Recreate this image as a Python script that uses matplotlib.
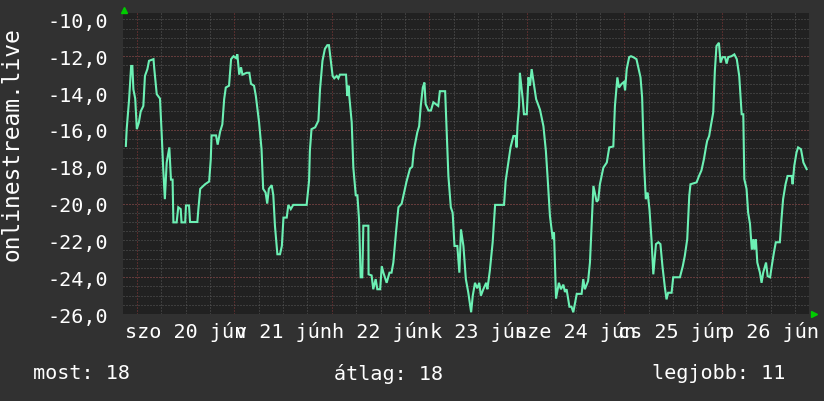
import matplotlib
matplotlib.use("Agg")
import matplotlib.pyplot as plt
from matplotlib.ticker import MultipleLocator, FixedLocator
from matplotlib.transforms import blended_transform_factory

# órák jún 20. 00:00-tól, hőmérséklet
hours = [-2.7, -2.5, -1.9, -1.4, -1.1, -0.85, -0.4, 0.0, 0.5, 0.95, 1.6, 2.0, 2.6, 3.0, 4.1, 4.3,
         4.9, 5.7, 6.1, 6.5, 6.9, 7.35, 8.0, 8.4, 8.8, 9.0, 9.8, 10.2, 10.8, 11.0, 11.9, 12.1,
         12.85, 13.1, 14.9, 15.15, 15.6, 16.8, 17.8, 18.2, 18.4, 19.5, 19.9, 20.5, 21.05, 21.5,
         21.9, 22.7, 23.2, 23.8, 24.4, 24.75, 25.2, 25.65, 26.0, 27.05, 27.7, 28.1, 28.85, 29.3,
         30.1, 30.7, 31.1, 31.7, 32.1, 32.5, 33.2, 33.6, 34.0, 34.6, 35.25, 35.7, 36.1, 36.9,
         37.3, 37.9, 38.5, 41.8, 42.4, 42.6, 43.0, 43.9, 44.7, 45.1, 45.7, 46.3, 46.9, 47.3,
         47.7, 48.2, 48.6, 49.2, 49.6, 50.0, 51.5, 51.8, 52.15, 52.3, 52.9, 53.3, 53.9, 54.3,
         54.7, 55.1, 55.5, 55.76, 57.0, 57.05, 57.8, 58.2, 58.8, 59.2, 59.9, 60.3, 60.7, 61.5,
         62.2, 62.7, 63.15, 63.8, 64.4, 65.2, 65.8, 66.4, 67.25, 67.8, 68.2, 69.05, 69.5, 69.9,
         70.4, 70.8, 71.1, 71.8, 72.4, 73.0, 74.2, 74.6, 75.9, 76.3, 76.7, 77.3, 77.75, 78.2,
         78.9, 79.4, 79.8, 80.4, 81.0, 81.6, 82.3, 82.7, 83.25, 83.8, 84.3, 84.7, 85.3, 86.0,
         86.3, 86.9, 87.6, 88.2, 90.4, 90.8, 91.45, 92.0, 92.7, 93.25, 93.5, 93.7, 94.1, 94.3,
         95.0, 95.3, 96.0, 96.4, 96.8, 97.2, 97.6, 98.3, 99.25, 100.1, 100.7, 101.1, 101.7,
         102.4, 102.7, 103.2, 103.9, 104.4, 105.0, 105.4, 105.8, 106.5, 107.0, 107.45, 108.3,
         109.5, 109.9, 110.3, 111.1, 111.55, 112.0, 112.4, 113.2, 113.6, 114.0, 114.85, 115.7,
         116.3, 117.3, 117.7, 118.3, 118.7, 119.35, 119.9, 120.2, 120.6, 121.2, 121.65, 122.2,
         123.0, 123.45, 124.0, 124.4, 124.9, 125.3, 125.75, 126.2, 126.7, 127.15, 127.8, 128.4,
         128.9, 129.4, 130.0, 130.4, 130.8, 131.65, 132.05, 133.7, 134.4, 134.9, 135.5, 136.0,
         136.3, 137.8, 138.4, 139.0, 139.6, 140.1, 140.4, 140.9, 141.3, 141.9, 142.3, 142.7,
         143.3, 143.7, 144.2, 144.8, 145.2, 145.6, 146.4, 147.1, 147.7, 148.3, 148.9, 149.3,
         149.55, 150.1, 150.5, 150.95, 151.4, 151.8, 152.0, 152.4, 152.75, 153.4, 153.8, 154.2,
         154.9, 155.3, 155.9, 156.3, 156.85, 157.3, 158.3, 158.7, 159.1, 159.7, 160.2, 161.2,
         161.45, 161.85, 162.4, 162.8, 163.5, 164.1, 164.9]
temps = [-16.87, -15.96, -14.33, -12.53, -12.53, -13.8, -14.3, -15.96, -15.6, -15.0, -14.7, -13.07,
         -12.7, -12.25, -12.16, -12.7, -14.06, -14.3, -16.13, -18.13, -19.76, -17.77, -16.95,
         -18.7, -18.7, -21.02, -21.02, -20.2, -20.3, -21.02, -21.02, -20.1, -20.1, -21.0, -21.0,
         -20.3, -19.2, -18.95, -18.8, -17.6, -16.3, -16.3, -16.8, -16.1, -15.7, -14.33, -13.7,
         -13.6, -12.16, -12.0, -12.1, -11.9, -13.0, -12.6, -13.0, -12.9, -12.9, -13.5, -13.6,
         -14.16, -15.6, -17.05, -19.2, -19.4, -20.0, -19.2, -19.0, -19.55, -21.2, -22.75, -22.75,
         -22.3, -20.76, -20.76, -20.07, -20.3, -20.07, -20.07, -18.77, -17.14, -15.96, -15.86,
         -15.5, -13.8, -12.25, -11.6, -11.4, -11.4, -12.16, -13.07, -13.2, -13.07, -13.2, -13.0,
         -13.0, -14.16, -13.6, -14.16, -15.6, -18.05, -19.55, -19.55, -20.85, -24.0, -24.0,
         -21.2, -21.2, -23.84, -23.9, -24.65, -24.1, -24.65, -24.65, -23.4, -23.75, -24.3,
         -23.75, -23.75, -23.2, -21.57, -20.2, -20.0, -19.4, -18.8, -18.1, -18.0, -17.1, -16.13,
         -15.8, -14.7, -13.7, -13.43, -14.6, -14.95, -14.95, -14.5, -14.7, -13.9, -13.9, -16.13,
         -18.5, -20.2, -20.5, -22.3, -22.3, -23.75, -21.4, -22.3, -24.1, -24.83, -25.9, -25.0,
         -24.3, -24.6, -24.3, -25.0, -24.65, -24.3, -24.65, -23.65, -22.1, -20.07, -20.07,
         -18.77, -17.77, -16.95, -16.33, -16.33, -16.95, -15.8, -14.7, -12.9, -14.33, -15.15,
         -15.15, -13.15, -13.6, -12.7, -13.3, -14.33, -14.9, -15.8, -17.14, -18.5, -20.67,
         -21.93, -21.57, -25.16, -24.3, -24.65, -24.4, -24.8, -24.65, -25.6, -25.6, -25.9,
         -24.9, -24.9, -24.1, -24.65, -24.2, -23.2, -21.0, -19.04, -19.9, -19.8, -18.95, -18.05,
         -17.77, -16.95, -16.9, -14.7, -13.15, -13.7, -13.5, -13.4, -13.85, -12.7, -12.05, -12.0,
         -12.05, -12.16, -12.6, -13.15, -14.25, -17.95, -19.76, -19.4, -20.3, -21.93, -23.84,
         -22.2, -22.1, -22.2, -23.4, -24.56, -25.2, -24.84, -24.84, -24.0, -24.0, -23.4, -22.84,
         -21.93, -19.58, -18.95, -18.85, -18.5, -18.2, -17.6, -16.95, -16.6, -16.33, -15.8,
         -15.05, -12.8, -11.45, -11.27, -12.35, -12.05, -12.05, -12.4, -12.05, -12.0, -11.9,
         -12.16, -13.07, -15.15, -15.15, -18.67, -19.2, -20.5, -21.1, -22.5, -21.93, -22.5,
         -21.93, -23.2, -23.75, -24.3, -23.75, -23.2, -23.94, -24.0, -23.4, -22.65, -22.1,
         -22.1, -20.85, -19.76, -18.95, -18.5, -18.5, -18.95, -17.95, -17.23, -16.95, -17.05,
         -17.77, -18.13]

day_labels = ["szo 20 jún", "v 21 jún", "h 22 jún", "k 23 jún", "sze 24 jún", "cs 25 jún", "p 26 jún"]
y_ticks = [-26, -24, -22, -20, -18, -16, -14, -12, -10]
legend_texts = ["most: 18", "átlag: 18", "legjobb: 11"]

BG = "#313131"
PLOT_BG = "#212121"
GRID = "#5a5a5a"
MAJOR = "#8a3a3a"
LINE = "#6cf0b4"
MONO = "DejaVu Sans Mono"

fig = plt.figure(figsize=(8.24, 4.02), dpi=100, facecolor=BG)
ax = fig.add_axes([0.1493, 0.2152, 0.8331, 0.7488], facecolor=PLOT_BG)

ax.set_xlim(-3.4, 165.6)
ax.set_ylim(-26.02, -9.68)

# rács
ax.xaxis.set_minor_locator(MultipleLocator(6))
ax.xaxis.set_major_locator(MultipleLocator(24))
ax.yaxis.set_minor_locator(MultipleLocator(0.5))
ax.yaxis.set_major_locator(FixedLocator(y_ticks))
dots = (0, (1, 2))
ax.grid(which="minor", color=GRID, linestyle=dots, linewidth=0.72)
ax.grid(which="major", axis="y", color=GRID, linestyle=dots, linewidth=0.72)
ax.grid(which="major", axis="x", color=MAJOR, linestyle=dots, linewidth=0.72)
for v in [-24, -20, -16, -12]:
    ax.axhline(v, color=MAJOR, linestyle=dots, linewidth=0.72, zorder=1)
ax.set_axisbelow(True)

ax.plot(hours, temps, color=LINE, linewidth=1.5, solid_joinstyle="miter", zorder=3)

ax.tick_params(which="both", length=0)
ax.set_yticklabels([f"{v:.1f}".replace(".", ",") for v in y_ticks],
                   fontfamily=MONO, fontsize=14.5, color="white")
ax.tick_params(axis="y", pad=11)
ax.set_xticklabels([])
for s in ax.spines.values():
    s.set_visible(False)

# napcímkék délben
trans = blended_transform_factory(ax.transData, ax.transAxes)
for i, lab in enumerate(day_labels):
    ax.text(12 + 24 * i, -0.02, lab, transform=trans, ha="center", va="top",
            fontfamily=MONO, fontsize=14.5, color="white")

fig.text(12 / 824, 1 - 144 / 402, "onlinestream.live", rotation=90, ha="center", va="center",
         fontfamily=MONO, fontsize=16.5, color="white")

for x, t in zip([33, 334, 652], legend_texts):
    fig.text(x / 824, 1 - 374 / 402, t, ha="left", va="center",
             fontfamily=MONO, fontsize=14.5, color="white")

# tengely nyilak
ax.plot([0.002], [1.012], marker="^", color="#00cc00", markersize=5,
        transform=ax.transAxes, clip_on=False)
ax.plot([1.006], [0.0], marker=">", color="#00cc00", markersize=5,
        transform=ax.transAxes, clip_on=False)

fig.savefig("out.png", dpi=100, facecolor=BG)
